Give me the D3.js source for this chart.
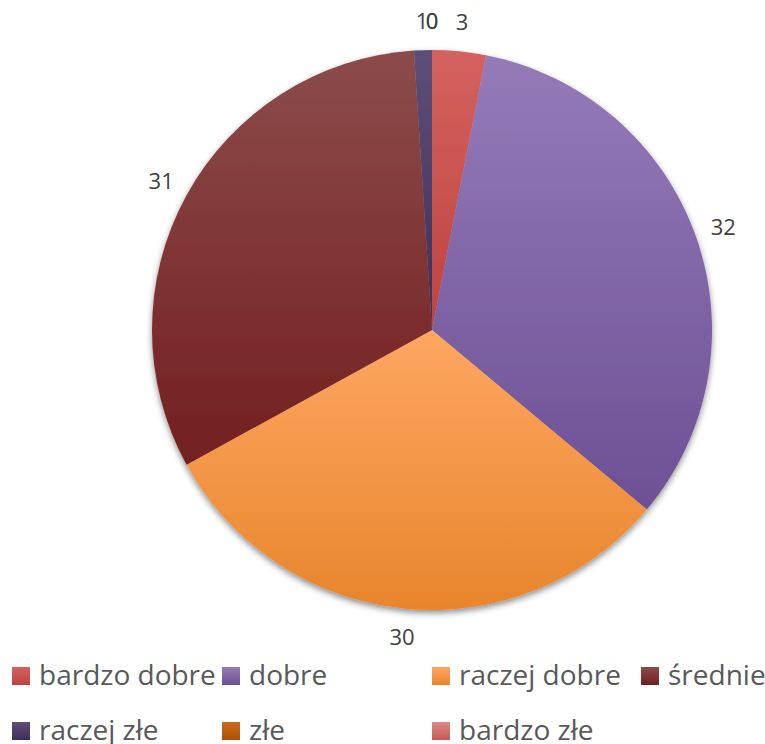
<!DOCTYPE html>
<html><head><meta charset="utf-8">
<script src="https://cdn.jsdelivr.net/npm/d3@7"></script>
<style>body{margin:0;background:#fff}svg{display:block}</style>
</head><body>
<script>
const categories = ["bardzo dobre","dobre","raczej dobre","średnie","raczej złe","złe","bardzo złe"];
const values = [3,32,30,31,1,0,0];
const topColors = ["#d4625f","#947bb8","#fea762","#8c4b4b","#5e4e78","#c96a1e","#dc8a88"];
const bottomColors = ["#be4340","#6d5095","#e8852c","#731f1f","#3f2f57","#b04f00","#c65a58"];

const W=765,H=744, cx=432, cy=330, R=280, labelR=309;
const svg=d3.select("body").append("svg").attr("width",W).attr("height",H);
const defs=svg.append("defs");
const f=defs.append("filter").attr("id","sh").attr("x","-20%").attr("y","-20%").attr("width","140%").attr("height","140%");
f.append("feDropShadow").attr("dx",0).attr("dy",3).attr("stdDeviation",3).attr("flood-color","#000").attr("flood-opacity",0.45);
categories.forEach((c,i)=>{
  const g=defs.append("linearGradient").attr("id","g"+i).attr("x1",0).attr("y1",0).attr("x2",0).attr("y2",1);
  g.append("stop").attr("offset","0%").attr("stop-color",topColors[i]);
  g.append("stop").attr("offset","100%").attr("stop-color",bottomColors[i]);
});
const pie=d3.pie().sort(null).value(d=>d)(values);
const arc=d3.arc().innerRadius(0).outerRadius(R);
const gp=svg.append("g").attr("transform",`translate(${cx},${cy})`);
gp.append("g").attr("filter","url(#sh)").selectAll("path").data(pie.filter(d=>d.value>0)).join("path")
  .attr("d",arc).attr("fill",d=>`url(#g${d.index})`);
const lab=d3.arc().innerRadius(labelR).outerRadius(labelR);
gp.selectAll("text.l").data(pie).join("text").attr("class","l")
  .attr("transform",d=>{const p=lab.centroid(d);return `translate(${p[0]},${p[1]})`;})
  .attr("text-anchor","middle").attr("dy","0.36em")
  .attr("font-family","'Open Sans', sans-serif").attr("font-size",22).attr("fill","#404040")
  .text(d=>d.value);
// legend
const legX=[12,222,432,641], rowY=[676,731];
const lg=svg.append("g");
categories.forEach((c,i)=>{
  const x=legX[i%4], y=rowY[Math.floor(i/4)];
  lg.append("rect").attr("x",x).attr("y",y-9).attr("width",18).attr("height",18).attr("fill",`url(#g${i})`);
  lg.append("text").attr("x",x+27).attr("y",y+9)
    .attr("font-family","'Open Sans', sans-serif").attr("font-size",28).attr("fill","#595959").text(c);
});
</script>
</body></html>
